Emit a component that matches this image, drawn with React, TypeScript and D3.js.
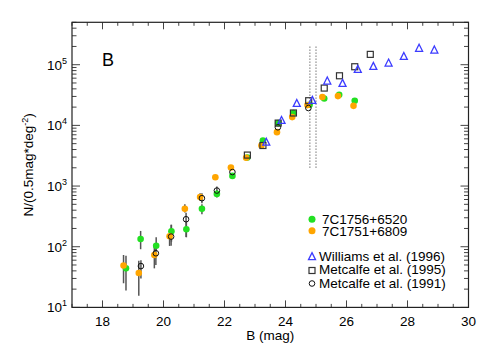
import React from "react";
import * as d3 from "d3";

// 7C1756+6520 (green)
const greenMag = [18.77, 19.25, 19.76, 20.26, 20.75, 21.26, 21.75, 22.26, 22.75, 23.26, 23.76, 24.26, 24.79, 25.27, 25.76, 26.27];
const greenN = [44, 134, 104, 180, 194, 421, 743, 1470, 2950, 5640, 10900, 16000, 21900, 27800, 32000, 25400];
const greenLo = [19, 91, 85, 121, 143, 343, 650, null, null, null, null, null, null, null, null, null];
const greenHi = [71, 182, 143, 230, 260, 500, 860, null, null, null, null, null, null, null, null, null];

// 7C1751+6809 (orange)
const orangeMag = [18.69, 19.19, 19.7, 20.2, 20.7, 21.2, 21.7, 22.21, 22.71, 23.21, 23.72, 24.22, 24.72, 25.21, 25.72, 26.23];
const orangeN = [49, 37, 73, 149, 421, 657, 1400, 2020, 2920, 4660, 7740, 13700, 21600, 29300, 30400, 21000];
const orangeLo = [25, 15.6, 44, 103, 365, 570, null, null, null, null, null, null, null, null, null, null];
const orangeHi = [73, 59, 104, 170, 500, 760, null, null, null, null, null, null, null, null, null, null];

// Metcalfe et al. (1991), open circles
const m91Mag = [19.26, 19.75, 20.25, 20.74, 21.26, 21.75, 22.26, 23.75, 24.75];
const m91N = [48, 78, 147, 284, 631, 843, 1700, 9300, 19300];
const m91Lo = [30, 50, 104, 145, 520, 720, null, null, null];
const m91Hi = [60, 110, 230, 364, 760, 980, null, null, null];

// Metcalfe et al. (1995), open squares
const m95Mag = [22.75, 23.26, 23.76, 24.26, 24.76, 25.27, 25.77, 26.27, 26.78];
const m95N = [3240, 4660, 10900, 16000, 25500, 41200, 65700, 92600, 148000];

// Williams et al. (1996), open triangles
const w96Mag = [23.37, 23.87, 24.37, 24.88, 25.37, 25.87, 26.37, 26.88, 27.38, 27.88, 28.38, 28.88];
const w96N = [5220, 11900, 22700, 25500, 53100, 48600, 82600, 92600, 105000, 135000, 184000, 172000];

const xTicks = [18, 20, 22, 24, 26, 28, 30];
const yTicks = [10, 100, 1000, 10000, 100000];
const limitMags = [24.8, 25.0];

const GREEN = "#22e022";
const ORANGE = "#ffa500";
const BLUE = "#3c3cff";
const FONT = "Liberation Sans, Arial, Helvetica, sans-serif";

const App = () => {
  const left = 72;
  const right = 468.5;
  const top = 22.3;
  const bottom = 307.4;
  const x = d3.scaleLinear().domain([17, 30]).range([left, right]);
  const y = d3.scaleLog().domain([10, 5e5]).range([bottom, top]);

  const minorX = d3.range(17, 30.01, 0.5).filter((v) => !xTicks.includes(v));
  const minorY: number[] = [];
  for (let e = 1; e <= 5; e++) {
    for (let k = 2; k <= 9; k++) {
      const v = k * Math.pow(10, e);
      if (v <= 5e5) minorY.push(v);
    }
  }

  const errBars = (mags: number[], lo: (number | null)[], hi: (number | null)[]) =>
    mags.map((m, i) =>
      lo[i] != null && hi[i] != null ? (
        <line key={i} x1={x(m)} x2={x(m)} y1={y(lo[i] as number)} y2={y(hi[i] as number)} stroke="#555" strokeWidth={1.5} />
      ) : null
    );

  const tri = (cx: number, cy: number, s: number) =>
    `M${cx},${cy - s * 0.62} L${cx + s / 2},${cy + s * 0.38} L${cx - s / 2},${cy + s * 0.38} Z`;

  const legendX = 312;

  return (
    <svg width={491} height={354} style={{ position: "absolute", left: 0, top: 0 }} fontFamily={FONT}>
      <rect x={0} y={0} width={491} height={354} fill="#fff" />

      {/* ticks */}
      <g stroke="#444" strokeWidth={1}>
        {xTicks.map((t) => (
          <g key={"xt" + t}>
            <line x1={x(t)} x2={x(t)} y1={bottom} y2={bottom - 7} />
            <line x1={x(t)} x2={x(t)} y1={top} y2={top + 7} />
          </g>
        ))}
        {minorX.map((t) => (
          <g key={"xm" + t}>
            <line x1={x(t)} x2={x(t)} y1={bottom} y2={bottom - 3.5} />
            <line x1={x(t)} x2={x(t)} y1={top} y2={top + 3.5} />
          </g>
        ))}
        {yTicks.map((t) => (
          <g key={"yt" + t}>
            <line x1={left} x2={left + 8} y1={y(t)} y2={y(t)} />
            <line x1={right} x2={right - 8} y1={y(t)} y2={y(t)} />
          </g>
        ))}
        {minorY.map((t) => (
          <g key={"ym" + t}>
            <line x1={left} x2={left + 4.5} y1={y(t)} y2={y(t)} />
            <line x1={right} x2={right - 4.5} y1={y(t)} y2={y(t)} />
          </g>
        ))}
      </g>
      <rect x={left} y={top} width={right - left} height={bottom - top} fill="none" stroke="#222" strokeWidth={1.2} />

      {/* tick labels */}
      {xTicks.map((t) => (
        <text key={"xl" + t} x={x(t)} y={bottom + 19} textAnchor="middle" fontSize={13.5}>
          {t}
        </text>
      ))}
      {yTicks.map((t) => (
        <text key={"yl" + t} x={left - 5} y={y(t) + 5} textAnchor="end" fontSize={13.5}>
          10
          <tspan dy={-6} fontSize={9}>
            {Math.round(Math.log10(t))}
          </tspan>
        </text>
      ))}

      {/* axis titles */}
      <text x={(left + right) / 2} y={340} textAnchor="middle" fontSize={13.5}>
        B (mag)
      </text>
      <text transform={`translate(33,${(top + bottom) / 2}) rotate(-90)`} textAnchor="middle" fontSize={13.5}>
        N/(0.5mag*deg
        <tspan dy={-5} fontSize={9}>-2</tspan>
        <tspan dy={5}>)</tspan>
      </text>
      <text x={102} y={66} fontSize={18}>
        B
      </text>

      {/* completeness limits */}
      {limitMags.map((m) => (
        <line key={"lim" + m} x1={x(m)} x2={x(m)} y1={y(2e5)} y2={y(1900)} stroke="#777" strokeWidth={1} strokeDasharray="1.5,1.5" />
      ))}

      {/* error bars */}
      {errBars(greenMag, greenLo, greenHi)}
      {errBars(orangeMag, orangeLo, orangeHi)}
      {errBars(m91Mag, m91Lo, m91Hi)}

      {/* filled points */}
      {greenMag.map((m, i) => (
        <circle key={"g" + i} cx={x(m)} cy={y(greenN[i])} r={3.3} fill={GREEN} />
      ))}
      {orangeMag.map((m, i) => (
        <circle key={"o" + i} cx={x(m)} cy={y(orangeN[i])} r={3.3} fill={ORANGE} />
      ))}

      {/* literature */}
      {m91Mag.map((m, i) => (
        <circle key={"c" + i} cx={x(m)} cy={y(m91N[i])} r={2.8} fill="none" stroke="#111" strokeWidth={1} />
      ))}
      {m95Mag.map((m, i) => (
        <rect key={"s" + i} x={x(m) - 3} y={y(m95N[i]) - 3} width={6} height={6} fill="none" stroke="#333" strokeWidth={1.2} />
      ))}
      {w96Mag.map((m, i) => (
        <path key={"t" + i} d={tri(x(m), y(w96N[i]), 7)} fill="none" stroke={BLUE} strokeWidth={1.3} />
      ))}

      {/* legend */}
      <circle cx={legendX} cy={219.3} r={3.5} fill={GREEN} />
      <text x={322} y={224} fontSize={13.5}>7C1756+6520</text>
      <circle cx={legendX} cy={230.7} r={3.5} fill={ORANGE} />
      <text x={322} y={235.5} fontSize={13.5}>7C1751+6809</text>

      <path d={tri(legendX, 257, 7)} fill="none" stroke={BLUE} strokeWidth={1.3} />
      <text x={319} y={261} fontSize={13.5}>Williams et al. (1996)</text>
      <rect x={legendX - 3} y={270.5 - 3} width={6} height={6} fill="none" stroke="#333" strokeWidth={1.2} />
      <text x={319} y={274} fontSize={13.5}>Metcalfe et al. (1995)</text>
      <circle cx={legendX} cy={283.5} r={2.8} fill="none" stroke="#111" strokeWidth={1} />
      <text x={319} y={287.5} fontSize={13.5}>Metcalfe et al. (1991)</text>
    </svg>
  );
};

export default App;
